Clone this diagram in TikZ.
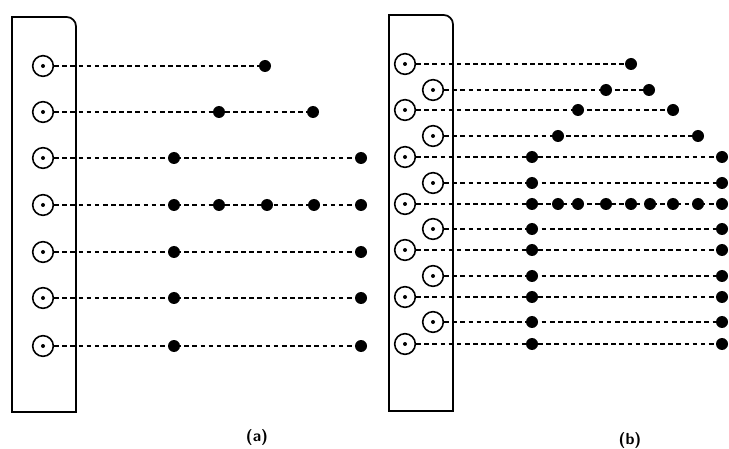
\documentclass[tikz,border=0pt]{standalone}
\usetikzlibrary{positioning}

\tikzset{
   src/.style={circle, draw, line width=1.2pt, minimum size=15.5pt, inner sep=0pt,
      path picture={\fill (path picture bounding box.center) circle (1.5pt);}},
   hit/.style={circle, fill, minimum size=9pt, inner sep=0pt},
   ray/.style={line width=1.1pt, dash pattern=on 3.5pt off 2.6pt},
   frame/.style={line width=1.3pt},
   tag/.style={font=\large\sffamily\bfseries}
}

\begin{document}
\begin{tikzpicture}[x=0.75pt, y=-0.75pt]
            \useasboundingbox (0,0) rectangle (729,449);
            % Panel (a): plate
            \draw[frame] (12,412) -- (12,17)
               {[rounded corners=7pt] -- (76,17) -- (76,60)} -- (76,412) -- cycle;
            % Panel (a): sources, hits and rays
            \foreach \i/\y/\xs/\n in {1/66/{265}/1, 2/112/{219,313}/2,
                  3/158/{174,361}/2, 4/205/{174,219,267,314,361}/5,
                  5/252/{174,361}/2, 6/298/{174,361}/2, 7/346/{174,361}/2} {
               \node[src] (sa\i) at (43,\y) {};
               \foreach \x [count=\j] in \xs
                  \node[hit] (a\i-\j) at (\x,\y) {};
               \draw[ray] (sa\i) -- (a\i-\n);
            }
            \node[tag] (taga) at (257,437) {(a)};
            % Panel (b): plate
            \draw[frame] (389,411) -- (389,15)
               {[rounded corners=7pt] -- (453,15) -- (453,60)} -- (453,411) -- cycle;
            % Panel (b): staggered sources, hits and rays
            \foreach \i/\sx/\y/\xs/\n in {1/405/64/{631}/1, 2/433/90/{606,649}/2,
                  3/405/110/{578,673}/2, 4/433/136/{558,698}/2,
                  5/405/157/{532,722}/2, 6/433/183/{532,722}/2,
                  7/405/204/{532,558,578,606,631,650,673,698,722}/9,
                  8/433/229/{532,722}/2, 9/405/250/{532,722}/2,
                  10/433/276/{532,722}/2, 11/405/297/{532,722}/2,
                  12/433/322/{532,722}/2, 13/405/344/{532,722}/2} {
               \node[src] (sb\i) at (\sx,\y) {};
               \foreach \x [count=\j] in \xs
                  \node[hit] (b\i-\j) at (\x,\y) {};
               \draw[ray] (sb\i) -- (b\i-\n);
            }
            \node[tag] (tagb) at (630,440) {(b)};
         \end{tikzpicture}
\end{document}
